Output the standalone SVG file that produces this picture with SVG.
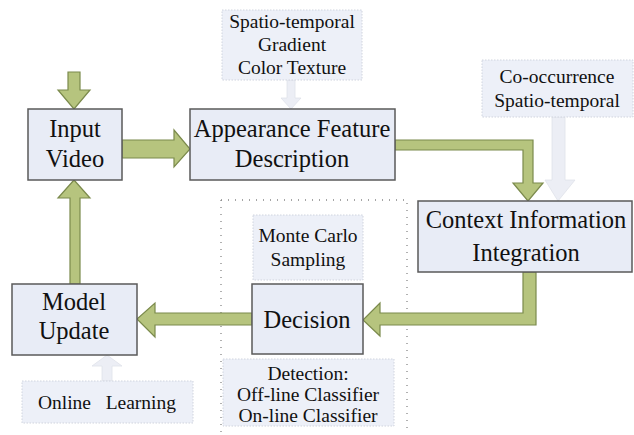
<svg xmlns="http://www.w3.org/2000/svg" width="634" height="435" viewBox="0 0 634 435">
<style>
.box{fill:#e8ecf6;stroke:#5a5a5a;stroke-width:1.5}
.note{fill:#edf0f8;stroke:#d0d4de;stroke-width:1;stroke-dasharray:1.5 1.5}
.g{fill:#b6c47e;stroke:#7b8a4c;stroke-width:1.2}
.l{fill:#eceef5;stroke:#dfe2ea;stroke-width:0.8}
.t{font-family:"Liberation Serif","Times New Roman",serif;fill:#111;text-anchor:middle}
.big{font-size:24.5px}
.sm{font-size:19.5px}
.dot{fill:none;stroke:#888;stroke-width:1.3;stroke-dasharray:1 6}
</style>
<rect width="634" height="435" fill="#fff"/>
<g id="region">
<path class="dot" d="M221,200 H407 V432 M221,200 V432"/>
</g>
<g id="connectors">
<polygon class="g" points="68,72 80,72 80,90 90,90 74,109 58,90 68,90"/>
<polygon class="g" points="122,140 174,140 174,130 190,149 174,167 174,158 122,158"/>
<polygon class="g" points="395,140 533,140 533,183 543,183 528,201 513,183 523,183 523,150 395,150"/>
<polygon class="g" points="523,272 536,272 536,325 380,325 380,336 363,320 380,303 380,313 523,313"/>
<polygon class="g" points="252,313 252,325 155,325 155,337 137,319 155,303 155,313"/>
<polygon class="g" points="70,284 70,198 58,198 74,180 90,198 80,198 80,284"/>
<polygon class="l" points="287,80 295,80 295,98 301,98 291,109 281,98 287,98"/>
<polygon class="l" points="552,117 565,117 565,180 575,180 558,201 545,180 552,180"/>
<polygon class="l" points="102,381 112,381 112,366 122,366 107,355 92,366 102,366"/>
</g>
<g id="input-video">
<rect class="box" x="28" y="109" width="94" height="71"/>
<text class="t big" x="75" y="137">Input</text>
<text class="t big" x="75" y="167">Video</text>
</g>
<g id="appearance">
<rect class="box" x="190" y="109" width="205" height="71"/>
<text class="t big" x="292" y="137">Appearance Feature</text>
<text class="t big" x="292" y="167">Description</text>
</g>
<g id="spatio-note">
<rect class="note" x="222" y="10" width="140" height="70"/>
<text class="t sm" x="292" y="28">Spatio-temporal</text>
<text class="t sm" x="292" y="51">Gradient</text>
<text class="t sm" x="292" y="74">Color Texture</text>
</g>
<g id="cooccurrence-note">
<rect class="note" x="482" y="60" width="151" height="57"/>
<text class="t sm" x="557" y="83">Co-occurrence</text>
<text class="t sm" x="557" y="107">Spatio-temporal</text>
</g>
<g id="context">
<rect class="box" x="418" y="201" width="214" height="71"/>
<text class="t big" x="526" y="228">Context Information</text>
<text class="t big" x="526" y="261">Integration</text>
</g>
<g id="monte-carlo">
<rect class="note" x="253" y="215" width="110" height="65"/>
<text class="t sm" x="308" y="242">Monte Carlo</text>
<text class="t sm" x="308" y="266">Sampling</text>
</g>
<g id="decision">
<rect class="box" x="252" y="284" width="111" height="70"/>
<text class="t big" x="307" y="328">Decision</text>
</g>
<g id="detection">
<rect class="note" x="223" y="359" width="171" height="67"/>
<text class="t sm" x="308" y="380">Detection:</text>
<text class="t sm" x="308" y="401">Off-line Classifier</text>
<text class="t sm" x="308" y="422">On-line Classifier</text>
</g>
<g id="model-update">
<rect class="box" x="12" y="284" width="125" height="71"/>
<text class="t big" x="74" y="310">Model</text>
<text class="t big" x="74" y="339">Update</text>
</g>
<g id="online-learning">
<rect class="note" x="22" y="381" width="171" height="42"/>
<text class="t sm" x="107" y="409" xml:space="preserve">Online   Learning</text>
</g>
</svg>
